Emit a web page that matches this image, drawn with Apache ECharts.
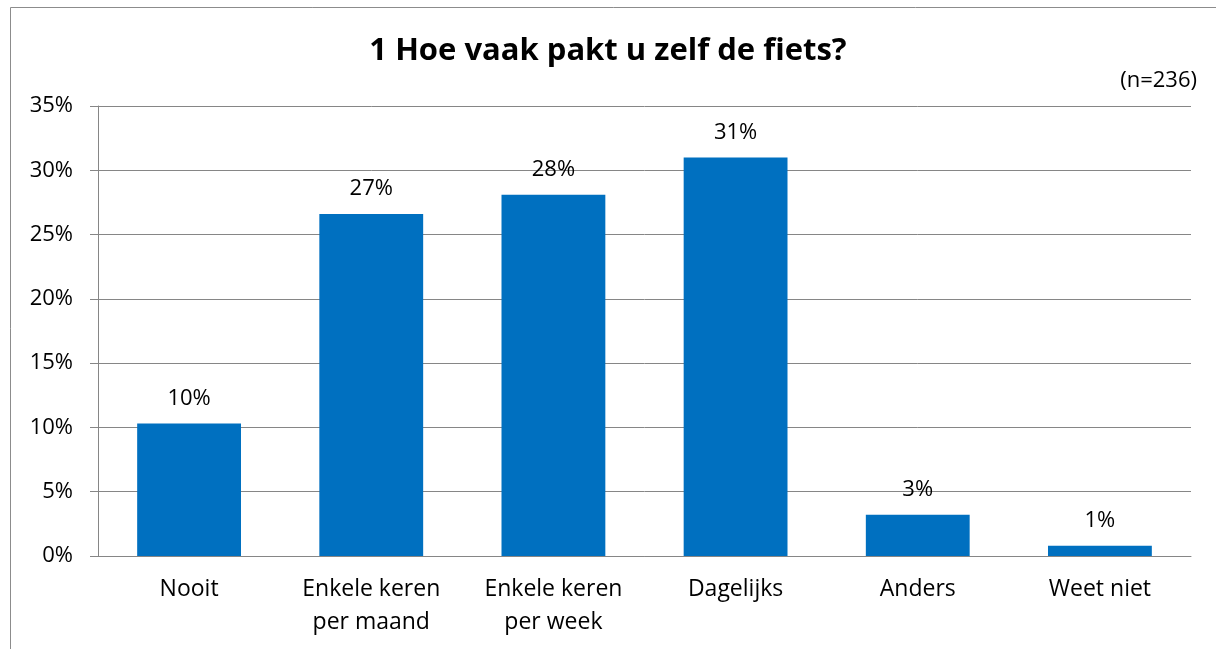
<!DOCTYPE html>
<html>
<head>
    <meta charset="utf-8">
    <title>index</title>
    <script src="https://cdn.jsdelivr.net/npm/echarts@6/dist/echarts.min.js"></script>
    <style>
        html, body { margin: 0; padding: 0; background: #fff; }
    </style>
</head>
<body>
    <div id="fiets" style="width:1216px;height:649px;"></div>
</body>
<script>
    // categorieen en percentages (n=236)
    var categories = ['Nooit', 'Enkele keren\nper maand', 'Enkele keren\nper week', 'Dagelijks', 'Anders', 'Weet niet'];
    var percentages = [10.3, 26.6, 28.1, 31.0, 3.2, 0.8];
    var yTicks = [0, 5, 10, 15, 20, 25, 30, 35];

    var font = 'Open Sans';
    var grey = '#868686';

    var chart = echarts.init(document.getElementById('fiets'));
    var option = {
        animation: false,
        backgroundColor: '#fff',
        title: [
            {
                text: '1 Hoe vaak pakt u zelf de fiets?',
                left: 'center',
                top: 31,
                textStyle: { fontFamily: font, fontSize: 31, fontWeight: 'bold', color: '#000' }
            },
            {
                text: '(n=236)',
                right: 14,
                top: 65,
                textStyle: { fontFamily: font, fontSize: 22, fontWeight: 'normal', color: '#000' }
            }
        ],
        graphic: [
            {
                type: 'rect',
                shape: { x: 10.5, y: 7.5, width: 1260, height: 700 },
                style: { fill: 'none', stroke: '#8c8c8c', lineWidth: 1 },
                silent: true
            }
        ],
        grid: { left: 98, right: 25, top: 106, bottom: 93 },
        xAxis: {
            type: 'category',
            data: categories,
            axisLine: { lineStyle: { color: grey } },
            axisTick: { length: 8, lineStyle: { color: grey } },
            axisLabel: {
                margin: 17,
                fontFamily: font,
                fontSize: 23,
                lineHeight: 33,
                color: '#000'
            }
        },
        yAxis: {
            type: 'value',
            min: yTicks[0],
            max: yTicks[yTicks.length - 1],
            interval: 5,
            axisLine: { show: true, lineStyle: { color: grey } },
            axisTick: { show: true, length: 8, lineStyle: { color: grey } },
            splitLine: { lineStyle: { color: grey } },
            axisLabel: {
                margin: 25,
                fontFamily: font,
                fontSize: 22,
                color: '#000',
                formatter: '{value}%'
            }
        },
        series: [
            {
                type: 'bar',
                data: percentages,
                barWidth: '57%',
                itemStyle: { color: '#0070C0' },
                label: {
                    show: true,
                    position: 'top',
                    distance: 14,
                    fontFamily: font,
                    fontSize: 22,
                    color: '#000',
                    formatter: function (p) { return Math.round(p.value) + '%'; }
                }
            }
        ]
    };
    chart.setOption(option);
</script>
</html>
